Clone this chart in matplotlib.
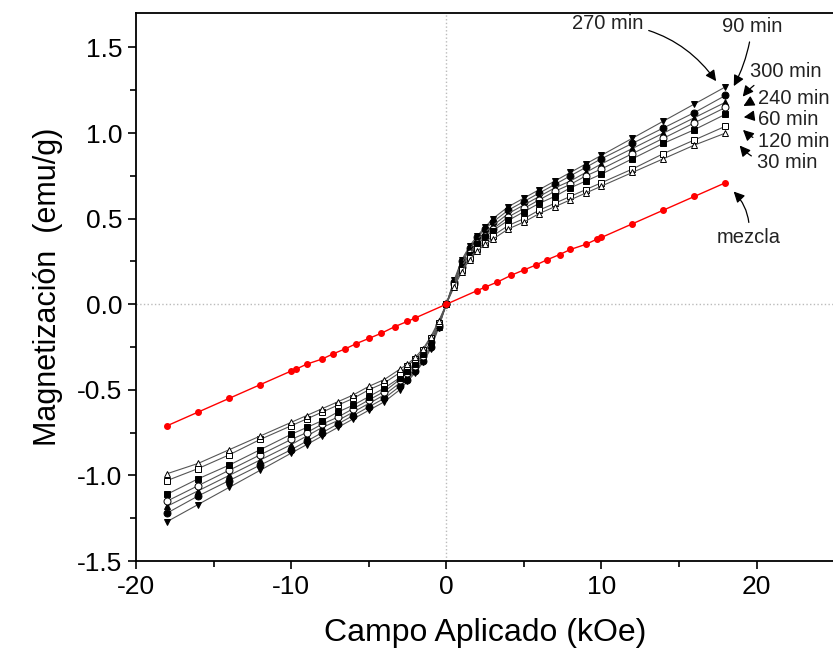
import matplotlib
matplotlib.use('Agg')
import matplotlib.pyplot as plt

plt.rcParams['font.family'] = ['Liberation Sans', 'DejaVu Sans']
plt.rcParams['axes.unicode_minus'] = False

# campo aplicado (kOe) para las muestras molidas
campo = [-18, -16, -14, -12, -10, -9, -8, -7, -6, -5, -4, -3, -2.5, -2, -1.5, -1, -0.5,
         0, 0.5, 1, 1.5, 2, 2.5, 3, 4, 5, 6, 7, 8, 9, 10, 12, 14, 16, 18]

# magnetizacion (emu/g) por tiempo de molienda
m_270 = [-1.27, -1.17, -1.07, -0.97, -0.87, -0.82, -0.77, -0.72, -0.67, -0.62, -0.57, -0.50, -0.45,
         -0.40, -0.34, -0.26, -0.14, 0.0, 0.14, 0.26, 0.34, 0.40, 0.45, 0.50, 0.57, 0.62, 0.67,
         0.72, 0.77, 0.82, 0.87, 0.97, 1.07, 1.17, 1.27]
m_90 = [-1.22, -1.12, -1.03, -0.94, -0.85, -0.80, -0.75, -0.70, -0.65, -0.60, -0.55, -0.48, -0.44,
        -0.39, -0.33, -0.25, -0.13, 0.0, 0.13, 0.25, 0.33, 0.39, 0.44, 0.48, 0.55, 0.60, 0.65,
        0.70, 0.75, 0.80, 0.85, 0.94, 1.03, 1.12, 1.22]
m_300 = [-1.18, -1.09, -1.00, -0.91, -0.82, -0.77, -0.72, -0.68, -0.63, -0.58, -0.53, -0.46, -0.42,
         -0.38, -0.32, -0.24, -0.13, 0.0, 0.13, 0.24, 0.32, 0.38, 0.42, 0.46, 0.53, 0.58, 0.63,
         0.68, 0.72, 0.77, 0.82, 0.91, 1.00, 1.09, 1.18]
m_240 = [-1.15, -1.06, -0.97, -0.88, -0.79, -0.75, -0.70, -0.66, -0.61, -0.56, -0.51, -0.44, -0.40,
         -0.36, -0.30, -0.22, -0.12, 0.0, 0.12, 0.22, 0.30, 0.36, 0.40, 0.44, 0.51, 0.56, 0.61,
         0.66, 0.70, 0.75, 0.79, 0.88, 0.97, 1.06, 1.15]
m_60 = [-1.11, -1.02, -0.94, -0.85, -0.76, -0.72, -0.68, -0.63, -0.59, -0.54, -0.49, -0.43, -0.39,
        -0.35, -0.29, -0.22, -0.12, 0.0, 0.12, 0.22, 0.29, 0.35, 0.39, 0.43, 0.49, 0.54, 0.59,
        0.63, 0.68, 0.72, 0.76, 0.85, 0.94, 1.02, 1.11]
m_120 = [-1.03, -0.96, -0.88, -0.79, -0.71, -0.67, -0.63, -0.59, -0.55, -0.50, -0.46, -0.40, -0.36,
         -0.32, -0.27, -0.20, -0.11, 0.0, 0.11, 0.20, 0.27, 0.32, 0.36, 0.40, 0.46, 0.50, 0.55,
         0.59, 0.63, 0.67, 0.71, 0.79, 0.88, 0.96, 1.04]
m_30 = [-0.99, -0.93, -0.85, -0.77, -0.69, -0.65, -0.61, -0.57, -0.53, -0.48, -0.44, -0.38, -0.35,
        -0.31, -0.26, -0.19, -0.10, 0.0, 0.10, 0.19, 0.26, 0.31, 0.35, 0.38, 0.44, 0.48, 0.53,
        0.57, 0.61, 0.65, 0.69, 0.77, 0.85, 0.93, 1.00]

# mezcla sin moler
campo_mezcla = [-18, -16, -14, -12, -10, -9.7, -9, -8, -7.3, -6.5, -5.8, -5, -4.2, -3.3, -2.5, -2,
                0, 2, 2.5, 3.3, 4.2, 5, 5.8, 6.5, 7.3, 8, 9, 9.7, 10, 12, 14, 16, 18]
m_mezcla = [-0.71, -0.63, -0.55, -0.47, -0.39, -0.38, -0.35, -0.32, -0.29, -0.26, -0.23, -0.20,
            -0.17, -0.13, -0.10, -0.08, 0.0, 0.08, 0.10, 0.13, 0.17, 0.20, 0.23, 0.26, 0.29, 0.32,
            0.35, 0.38, 0.39, 0.47, 0.55, 0.63, 0.71]

series = [
    (m_270, 'v', 'black'),
    (m_90, 'o', 'black'),
    (m_300, '^', 'black'),
    (m_240, 'o', 'white'),
    (m_60, 's', 'black'),
    (m_120, 's', 'white'),
    (m_30, '^', 'white'),
]

fig = plt.figure(figsize=(8.33, 6.56), dpi=100)
ax = fig.add_axes([0.1633, 0.1448, 0.838, 0.835])

ax.axhline(0, color='#bbbbbb', lw=1, ls=':', zorder=0)
ax.axvline(0, color='#bbbbbb', lw=1, ls=':', zorder=0)

for m, mk, fc in series:
    ax.plot(campo, m, color='#555555', lw=0.8, marker=mk, markersize=5,
            markerfacecolor=fc, markeredgecolor='black', markeredgewidth=0.7)

ax.plot(campo_mezcla, m_mezcla, color='red', lw=1, marker='o', markersize=4,
        markerfacecolor='red', markeredgecolor='red')

ax.set_xlim(-20, 25)
ax.set_ylim(-1.5, 1.7)
ax.set_xticks([-20, -10, 0, 10, 20])
ax.set_xticks([-15, -5, 5, 15, 25], minor=True)
ax.set_yticks([-1.5, -1.0, -0.5, 0.0, 0.5, 1.0, 1.5])
ax.set_yticks([-1.25, -0.75, -0.25, 0.25, 0.75, 1.25], minor=True)
ax.yaxis.set_major_formatter(matplotlib.ticker.FormatStrFormatter('%.1f'))
ax.tick_params(which='major', direction='out', length=6, width=1.2, labelsize=19, pad=4)
ax.tick_params(which='minor', direction='out', length=4, width=1.2)
for s in ax.spines.values():
    s.set_linewidth(1.3)

ax.set_xlabel('Campo Aplicado (kOe)', fontsize=23, labelpad=14)
ax.set_ylabel('Magnetización  (emu/g)', fontsize=22, labelpad=10)

arrow = dict(arrowstyle='-|>', color='black', lw=0.9, mutation_scale=16)
notes = [
    ('270 min', (17.5, 1.29), (10.4, 1.64), 'center', 'arc3,rad=-0.25'),
    ('90 min', (18.45, 1.26), (19.7, 1.62), 'center', 'arc3,rad=-0.1'),
    ('300 min', (19.0, 1.20), (19.6, 1.36), 'left', 'arc3,rad=0.2'),
    ('240 min', (19.0, 1.15), (20.1, 1.20), 'left', 'arc3,rad=0.2'),
    ('60 min', (19.0, 1.09), (20.1, 1.08), 'left', 'arc3,rad=0.1'),
    ('120 min', (19.0, 1.03), (20.1, 0.95), 'left', 'arc3,rad=-0.3'),
    ('30 min', (18.8, 0.94), (20.0, 0.83), 'left', 'arc3,rad=-0.3'),
    ('mezcla', (18.4, 0.67), (19.5, 0.39), 'center', 'arc3,rad=0.25'),
]
for txt, xy, xyt, ha, cs in notes:
    ax.annotate(txt, xy=xy, xytext=xyt, ha=ha, va='center', fontsize=14.5,
                color='#222222', annotation_clip=False,
                arrowprops=dict(arrow, connectionstyle=cs))

fig.savefig('out.png', dpi=100)
